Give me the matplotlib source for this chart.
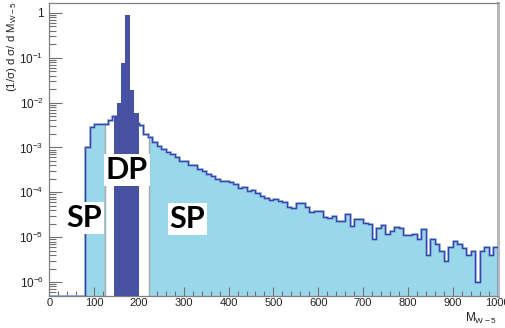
"""Mass spectrum: single-pole (SP) and double-pole (DP) contributions."""

import numpy as np
import matplotlib

matplotlib.use('Agg')
import matplotlib.pyplot as plt
from matplotlib.ticker import FixedLocator, FuncFormatter, NullFormatter

plt.rcParams['font.family'] = ['Liberation Sans', 'DejaVu Sans']
plt.rcParams['mathtext.default'] = 'regular'

# SP histogram: 10-unit bins from 0 to 1000 (zero below 80)
SP_EDGES = np.arange(0, 1001, 10)
SP_VALUES = np.array([
    0, 0, 0, 0, 0, 0, 0, 0,
    1.0e-3, 2.9e-3, 3.3e-3, 3.4e-3, 3.4e-3, 4.0e-3, 5.0e-3, 5.0e-3, 5.0e-3, 4.5e-3,
    4.0e-3, 3.5e-3, 3.2e-3, 2.0e-3, 1.7e-3, 1.3e-3, 1.1e-3, 9.3e-4, 7.9e-4, 7.2e-4,
    6.1e-4, 5.1e-4, 5.1e-4, 4.1e-4, 4.1e-4, 3.4e-4, 3.0e-4, 2.6e-4, 2.3e-4, 2.0e-4,
    1.8e-4, 1.8e-4, 1.66e-4, 1.55e-4, 1.28e-4, 1.35e-4, 1.07e-4, 1.12e-4, 9.6e-5, 8.3e-5,
    7.6e-5, 6.6e-5, 7.2e-5, 6.3e-5, 6.1e-5, 4.7e-5, 4.5e-5, 5.7e-5, 5.9e-5, 4.8e-5,
    3.7e-5, 3.9e-5, 3.9e-5, 2.8e-5, 2.7e-5, 2.9e-5, 2.3e-5, 2.3e-5, 3.3e-5, 1.8e-5,
    2.5e-5, 2.5e-5, 2.1e-5, 2.0e-5, 9.1e-6, 1.6e-5, 1.9e-5, 1.2e-5, 1.4e-5, 1.7e-5,
    1.6e-5, 1.1e-5, 1.1e-5, 1.2e-5, 9.3e-6, 1.5e-5, 4.0e-6, 9.1e-6, 7.1e-6, 5.0e-6,
    3.0e-6, 6.0e-6, 8.1e-6, 7.1e-6, 5.8e-6, 4.0e-6, 5.0e-6, 1.0e-6, 5.0e-6, 6.0e-6,
    4.0e-6, 6.0e-6,
])

# DP histogram (narrow peak)
DP_EDGES = np.array([145, 150, 160, 170, 180, 190, 200])
DP_VALUES = np.array([4.8e-3, 1.0e-2, 7.5e-2, 0.9, 1.9e-2, 5.9e-3])

# blanked SP window around the DP peak
GAP_LO, GAP_HI = 125, 222

Y_DECADES = np.arange(-6, 1)
X_TICKS = np.arange(0, 1001, 100)

Y_MIN, Y_MAX = 4.9e-7, 1.66
X_MIN, X_MAX = 0, 1000

SP_FILL = '#99d8ea'
SP_LINE = '#2e48aa'
SP_SHADOW = '#8ea7dc'
DP_FILL = '#4852a3'
FRAME = '#808080'

W, H = 505, 328


def fig_xy(px, py):
    return px / W, 1 - py / H


def log_label(v, _pos):
    if np.isclose(v, 1.0):
        return '1'
    return f'$10^{{{int(round(np.log10(v)))}}}$'


fig = plt.figure(figsize=(W / 100, H / 100), dpi=100)
ax = fig.add_axes([49.3 / W, 1 - 296 / H, 448.2 / W, 293 / H])
ax.set_yscale('log')
ax.set_xlim(X_MIN, X_MAX)
ax.set_ylim(Y_MIN, Y_MAX)

sp_plot = np.where(SP_VALUES > 0, SP_VALUES, Y_MIN)

ax.stairs(sp_plot, SP_EDGES, fill=True, color=SP_FILL, baseline=Y_MIN, zorder=1)

# white window over the SP fill
inner = SP_EDGES[(SP_EDGES > GAP_LO) & (SP_EDGES < GAP_HI)]
gap_edges = np.concatenate([[GAP_LO], inner, [GAP_HI]])
gap_vals = sp_plot[np.searchsorted(SP_EDGES, gap_edges[:-1], side='right') - 1]
ax.stairs(gap_vals, gap_edges, fill=True, color='white', baseline=Y_MIN, zorder=2)
ax.vlines([GAP_LO, GAP_HI], Y_MIN, [gap_vals[0], gap_vals[-1]], color='#a8a8a8', lw=1.0, zorder=2.5)

ax.stairs(sp_plot, SP_EDGES, color=SP_SHADOW, lw=1.8, baseline=Y_MIN, zorder=3)
ax.stairs(sp_plot, SP_EDGES, color=SP_LINE, lw=0.9, baseline=Y_MIN, zorder=3.1)

ax.stairs(DP_VALUES, DP_EDGES, fill=True, color=DP_FILL, baseline=Y_MIN, zorder=4)

# axes styling (ROOT-like)
for side in ('left', 'bottom', 'top'):
    ax.spines[side].set_color(FRAME)
    ax.spines[side].set_linewidth(0.9)
ax.spines['right'].set_color('#b8b8b8')
ax.spines['right'].set_linewidth(2.2)

ax.xaxis.set_major_locator(FixedLocator(X_TICKS))
ax.xaxis.set_minor_locator(FixedLocator(np.arange(0, 1001, 20)))
ax.yaxis.set_major_locator(FixedLocator(10.0 ** Y_DECADES))
minor_y = [m * 10.0 ** d for d in range(-7, 1) for m in range(2, 10)]
ax.yaxis.set_minor_locator(FixedLocator([v for v in minor_y if Y_MIN < v < Y_MAX]))
ax.yaxis.set_major_formatter(FuncFormatter(log_label))
ax.yaxis.set_minor_formatter(NullFormatter())

ax.tick_params(axis='both', which='both', direction='in', color='#707070', width=0.8,
               labelcolor='#222222')
ax.tick_params(axis='y', which='major', length=9.5, pad=4, labelsize=8.5)
ax.tick_params(axis='y', which='minor', length=5)
ax.tick_params(axis='x', which='major', length=6.5, pad=1.5, labelsize=8)
ax.tick_params(axis='x', which='minor', length=3.3)

# axis titles
fig.text(*fig_xy(497, 322), r'M$_{W-5}$', ha='right', va='baseline', fontsize=8.5, color='#222222')
fig.text(*fig_xy(12, 1), r'(1/σ) d σ/ d M$_{W-5}$', rotation=90, ha='center', va='top',
         fontsize=8.2, color='#222222')

# region labels
box = dict(facecolor='white', edgecolor='none', pad=1.5)
label_kw = dict(family=['Lato', 'DejaVu Sans'], weight='bold', fontsize=22, color='black',
                ha='center', va='baseline', zorder=6)
fig.text(*fig_xy(127, 179), 'DP', bbox=box, **label_kw)
fig.text(*fig_xy(84.5, 227), 'SP', bbox=box, **label_kw)
fig.text(*fig_xy(187.5, 228), 'SP', bbox=box, **label_kw)

fig.savefig('out.png', dpi=100)
